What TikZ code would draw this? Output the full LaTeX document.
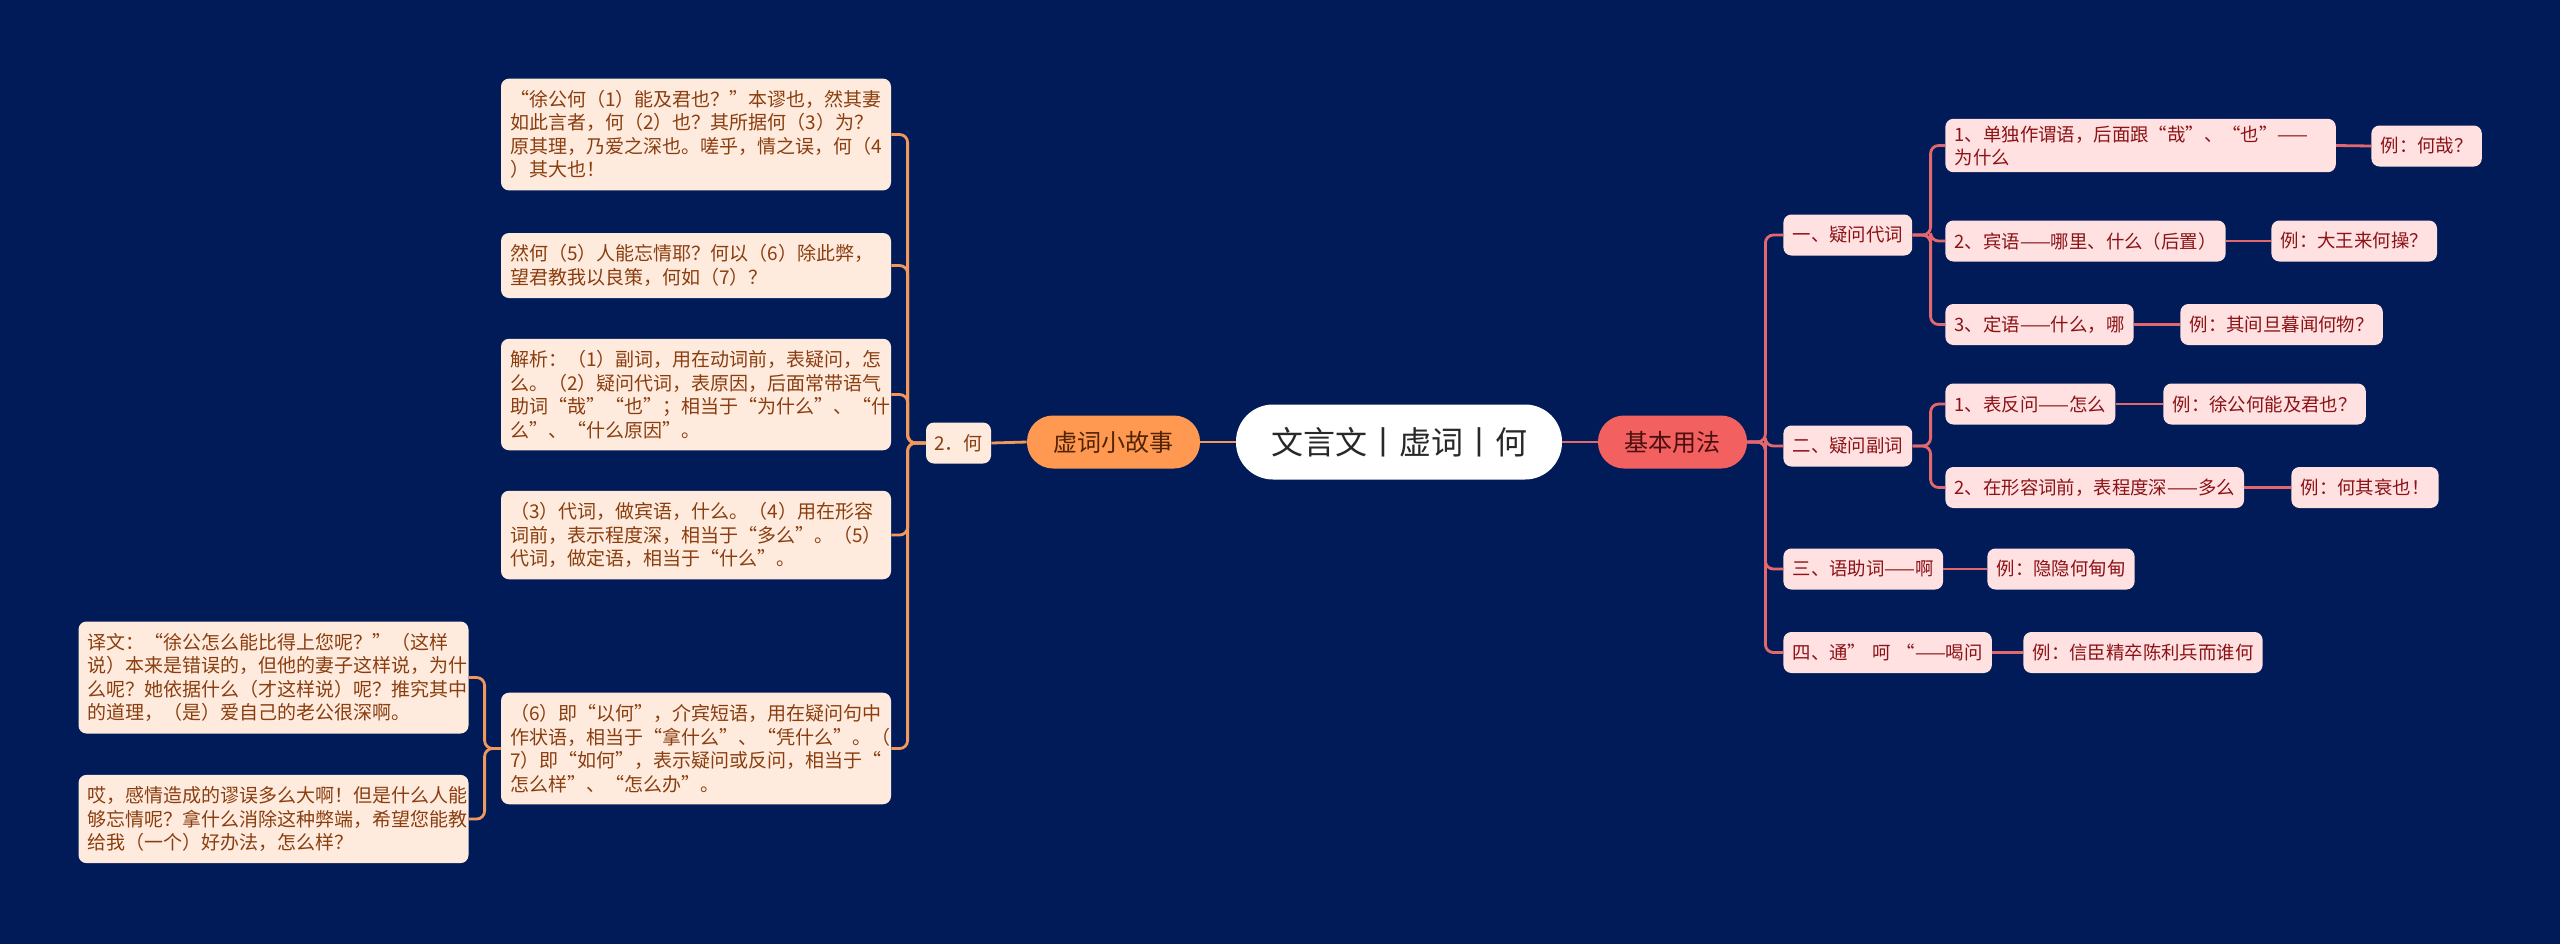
\documentclass[tikz,border=0pt]{standalone}
\usepackage{fontspec}
\usepackage{xcolor}
\newfontfamily\cjk{Noto Sans CJK SC}

\definecolor{bgblue}{RGB}{1,27,88}
\definecolor{leaffill}{RGB}{255,235,221}
\definecolor{leaftext}{RGB}{138,62,16}
\definecolor{orangeline}{RGB}{242,152,92}
\definecolor{storyfill}{RGB}{255,152,80}
\definecolor{basefill}{RGB}{242,96,96}
\definecolor{rfill}{RGB}{255,225,225}
\definecolor{rtext}{RGB}{139,18,22}
\definecolor{pinkline}{RGB}{227,104,110}

\tikzset{
  leafbox/.style={fill=leaffill, text=leaftext, rounded corners=4pt,
    inner xsep=4.5pt, inner ysep=5.8pt, align=left, text width=186pt,
    font=\cjk\fontsize{9.5pt}{11.75pt}\selectfont},
  rightbox/.style={fill=rfill, text=rtext, rounded corners=4pt, anchor=west,
    inner xsep=4.6pt, minimum height=20.5pt,
    font=\cjk\fontsize{9.2pt}{11.5pt}\selectfont},
  pillbox/.style={rounded corners=13pt, minimum height=26.5pt,
    font=\cjk\fontsize{12pt}{14pt}\selectfont},
  oline/.style={draw=orangeline, line width=1.4pt, rounded corners=4pt},
  pline/.style={draw=pinkline, line width=1.4pt, rounded corners=4pt}
}

\begin{document}
\begin{tikzpicture}[x=0.5pt, y=-0.5pt]
  % Background and page size
  \fill[bgblue] (0,0) rectangle (2560,944);
  \useasboundingbox (0,0) rectangle (2560,944);

  % Centre and the two main branches
  \node[fill=white, text={rgb,255:red,40;green,40;blue,40}, rounded corners=18.5pt,
    minimum width=163pt, minimum height=37.5pt,
    font=\cjk\fontsize{16pt}{18pt}\selectfont] (cen) at (1399,442) {文言文丨虚词丨何};
  \node[pillbox, fill=storyfill, text={rgb,255:red,80;green,35;blue,5},
    minimum width=86.5pt] (story) at (1113.5,442) {虚词小故事};
  \node[pillbox, fill=basefill, text={rgb,255:red,75;green,15;blue,15},
    minimum width=74.5pt] (base) at (1672.5,442) {基本用法};

  % Left side: the story
  \node[fill=leaffill, text=leaftext, rounded corners=4pt, minimum width=32.5pt,
    minimum height=20.5pt, font=\cjk\fontsize{9.5pt}{11pt}\selectfont] (he) at (958.5,443) {2．何};

  \node[leafbox] (l1) at (696,134.5) {“徐公何（1）能及君也？”本谬也，然其妻\\如此言者，何（2）也？其所据何（3）为？\\原其理，乃爱之深也。嗟乎，情之误，何（4\\）其大也！};
  \node[leafbox] (l2) at (696,265.5) {然何（5）人能忘情耶？何以（6）除此弊，\\望君教我以良策，何如（7）？};
  \node[leafbox] (l3) at (696,394.5) {解析：（1）副词，用在动词前，表疑问，怎\\么。（2）疑问代词，表原因，后面常带语气\\助词“哉”“也”；相当于“为什么”、“什\\么”、“什么原因”。};
  \node[leafbox] (l4) at (696,535) {（3）代词，做宾语，什么。（4）用在形容\\词前，表示程度深，相当于“多么”。（5）\\代词，做定语，相当于“什么”。};
  \node[leafbox] (l5) at (696,748.5) {（6）即“以何”，介宾短语，用在疑问句中\\作状语，相当于“拿什么”、“凭什么”。（\\7）即“如何”，表示疑问或反问，相当于“\\怎么样”、“怎么办”。};

  \node[leafbox] (f1) at (273.5,677.5) {译文：“徐公怎么能比得上您呢？”（这样\\说）本来是错误的，但他的妻子这样说，为什\\么呢？她依据什么（才这样说）呢？推究其中\\的道理，（是）爱自己的老公很深啊。};
  \node[leafbox] (f2) at (273.5,819) {哎，感情造成的谬误多么大啊！但是什么人能\\够忘情呢？拿什么消除这种弊端，希望您能教\\给我（一个）好办法，怎么样？};

  % Right side: basic usage
  \node[rightbox] (r1) at (1783,235) {一、疑问代词};
  \node[rightbox, text width=186pt, align=left] (r11) at (1945,145.5) {1、单独作谓语，后面跟“哉”、“也”——\\为什么};
  \node[rightbox] (r11e) at (2371,146) {例：何哉？};
  \node[rightbox] (r12) at (1945,241) {2、宾语——哪里、什么（后置）};
  \node[rightbox] (r12e) at (2271,241) {例：大王来何操？};
  \node[rightbox] (r13) at (1945,324.5) {3、定语——什么，哪};
  \node[rightbox] (r13e) at (2180,324.5) {例：其间旦暮闻何物？};

  \node[rightbox] (r2) at (1783,446) {二、疑问副词};
  \node[rightbox] (r21) at (1945,404) {1、表反问——怎么};
  \node[rightbox] (r21e) at (2163,404) {例：徐公何能及君也？};
  \node[rightbox] (r22) at (1945,487.5) {2、在形容词前，表程度深——多么};
  \node[rightbox] (r22e) at (2291,487.5) {例：何其衰也！};

  \node[rightbox] (r3) at (1783,569) {三、语助词——啊};
  \node[rightbox] (r3e) at (1987,569) {例：隐隐何甸甸};
  \node[rightbox] (r4) at (1783,652.5) {四、通”\hspace{3pt}呵\hspace{3pt}“——喝问};
  \node[rightbox] (r4e) at (2023,652.5) {例：信臣精卒陈利兵而谁何};

  % Connectors, left
  \draw[oline] (cen.west) -- (story.east);
  \draw[oline] (story.west) -- (he.east);
  \foreach \n in {l1,l2,l3,l4,l5}
    \draw[oline] (he.west) -- ++(-18,0) |- (\n.east);
  \foreach \n in {f1,f2}
    \draw[oline] (l5.west) -- ++(-16,0) |- (\n.east);

  % Connectors, right
  \draw[pline] (cen.east) -- (base.west);
  \foreach \n in {r1,r2,r3,r4}
    \draw[pline] (base.east) -- ++(18,0) |- (\n.west);
  \foreach \n in {r11,r12,r13}
    \draw[pline] (r1.east) -- ++(18,0) |- (\n.west);
  \foreach \n in {r21,r22}
    \draw[pline] (r2.east) -- ++(18,0) |- (\n.west);
  \foreach \a/\b in {r11/r11e,r12/r12e,r13/r13e,r21/r21e,r22/r22e,r3/r3e,r4/r4e}
    \draw[pline] (\a.east) -- (\b.west);
\end{tikzpicture}
\end{document}
